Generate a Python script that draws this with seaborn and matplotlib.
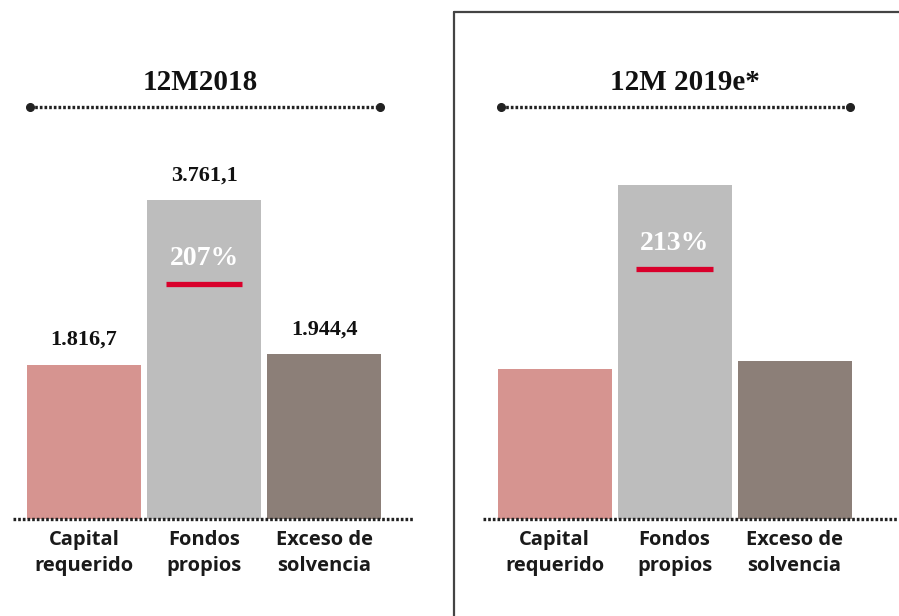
import matplotlib
matplotlib.use("Agg")
import matplotlib.pyplot as plt
from matplotlib.lines import Line2D
import pandas as pd
import seaborn as sns

categories = ["Capital\nrequerido", "Fondos\npropios", "Exceso de\nsolvencia"]
values_2018 = [1816.7, 3761.1, 1944.4]
values_2019 = [1770.0, 3940.0, 1860.0]
labels_2018 = ["1.816,7", "3.761,1", "1.944,4"]
ratio_labels = ["207%", "213%"]
titles = ["12M2018", "12M 2019e*"]

bar_colors = ["#d69490", "#bdbdbd", "#8c7f78"]
palette = dict(zip(categories, bar_colors))

sns.set_theme(style="white")
serif = "Liberation Serif"
sans = "Open Sans"

fig = plt.figure(figsize=(8.99, 6.16), dpi=100)
W, H = 899, 616
upx = 11.8  # data units per pixel

ax_l = fig.add_axes([13 / W, 97 / H, 400 / W, 519 / H])
ax_r = fig.add_axes([483 / W, 97 / H, 415 / W, 519 / H])

panels = [
    (ax_l, values_2018, (-0.592, 2.741), 0.97, True),
    (ax_r, values_2019, (-0.596, 2.862), 1.09, False),
]

for i, (ax, vals, xlim, tx, show_vals) in enumerate(panels):
    df = pd.DataFrame({"cat": categories, "val": vals})
    sns.barplot(data=df, x="cat", y="val", hue="cat", palette=palette,
                order=categories, width=0.95, legend=False, ax=ax,
                saturation=1, edgecolor="none")
    ax.set_xlim(*xlim)
    ax.set_ylim(0, 519 * upx)
    ax.set_xlabel("")
    ax.set_ylabel("")
    ax.set_yticks([])
    for s in ax.spines.values():
        s.set_visible(False)
    ax.tick_params(axis="x", length=0, pad=8)
    ax.set_xticks(range(3))
    ax.set_xticklabels(categories, fontfamily=sans, fontweight="bold",
                       fontsize=14.5, color="#1a1a1a", linespacing=1.4)
    ax.patch.set_alpha(0)

    # dotted baseline
    ax.axhline(0, color="#222222", lw=2.4, ls=(0, (0.8, 0.6)), zorder=5,
               clip_on=False)

    # title and dotted rule
    ax.text(tx, (519 - 82) * upx, titles[i], ha="center", va="center",
            fontfamily=serif, fontweight="bold", fontsize=21, color="#111111")
    ry = (519 - 107) * upx
    ax.plot([-0.45, 2.465], [ry, ry], color="#222222", lw=2.4,
            ls=(0, (0.8, 0.6)), clip_on=False)
    ax.plot([-0.45, 2.465], [ry, ry], ls="none", marker="o", ms=5.5,
            color="#222222", clip_on=False)

    # value labels
    if show_vals:
        for j, v in enumerate(vals):
            ax.annotate(labels_2018[j], (j, v), xytext=(0, 18),
                        textcoords="offset points", ha="center", va="center",
                        fontfamily=serif, fontweight="bold", fontsize=16,
                        color="#111111")

    # solvency ratio on fondos propios bar
    fv = vals[1]
    ax.annotate(ratio_labels[i], (1, fv), xytext=(0, -42),
                textcoords="offset points", ha="center", va="center",
                fontfamily=serif, fontweight="bold", fontsize=20,
                color="white")
    ly = fv - 84 * upx
    ax.plot([1 - 0.317, 1 + 0.317], [ly, ly], color="#d9002b", lw=3.8,
            solid_capstyle="butt")

# frame around the right panel
fig.add_artist(Line2D([454 / W, 454 / W], [0, 1 - 12 / H], color="#444444",
                      lw=1.6, transform=fig.transFigure))
fig.add_artist(Line2D([454 / W, 1], [1 - 12 / H, 1 - 12 / H], color="#444444",
                      lw=1.6, transform=fig.transFigure))

fig.savefig("out.png", dpi=100, facecolor="white")
